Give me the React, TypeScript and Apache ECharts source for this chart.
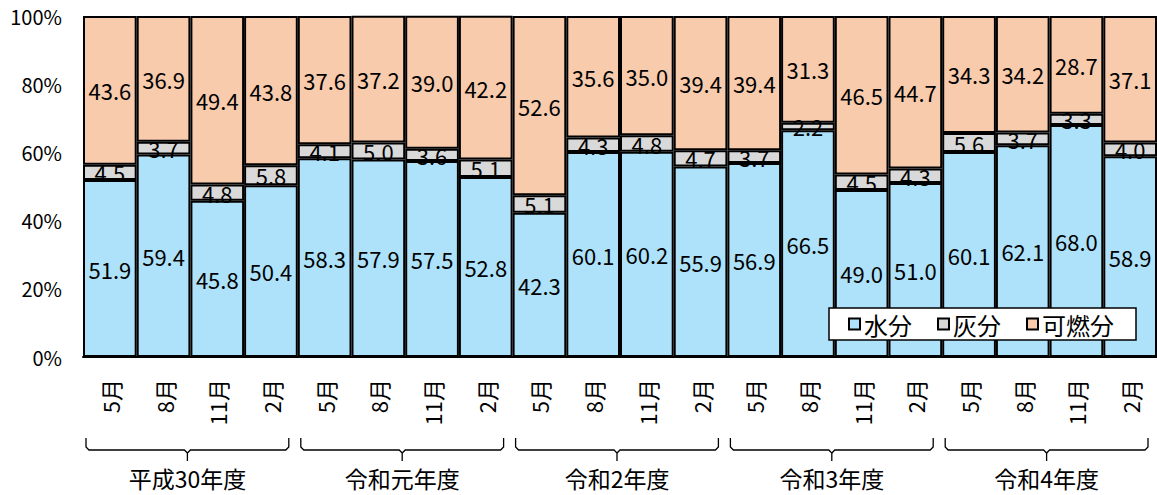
import React, { useEffect, useRef } from "react";
import * as echarts from "echarts";

const months = ["5月", "8月", "11月", "2月"];
const groups = ["平成30年度", "令和元年度", "令和2年度", "令和3年度", "令和4年度"];
const categories = groups.flatMap((g) => months.map((m) => `${g}|${m}`));

const moisture = [51.9, 59.4, 45.8, 50.4, 58.3, 57.9, 57.5, 52.8, 42.3, 60.1, 60.2, 55.9, 56.9, 66.5, 49.0, 51.0, 60.1, 62.1, 68.0, 58.9];
const ash = [4.5, 3.7, 4.8, 5.8, 4.1, 5.0, 3.6, 5.1, 5.1, 4.3, 4.8, 4.7, 3.7, 2.2, 4.5, 4.3, 5.6, 3.7, 3.3, 4.0];
const combustible = [43.6, 36.9, 49.4, 43.8, 37.6, 37.2, 39.0, 42.2, 52.6, 35.6, 35.0, 39.4, 39.4, 31.3, 46.5, 44.7, 34.3, 34.2, 28.7, 37.1];

const seriesNames = ["水分", "灰分", "可燃分"];
const colors = ["#ade2fa", "#d9d9d9", "#f8cbad"];
const FONT = "'Noto Sans CJK JP', 'Noto Sans', sans-serif";

export default function App() {
  const ref = useRef<HTMLDivElement>(null);
  useEffect(() => {
    if (!ref.current) return;
    const chart = echarts.init(ref.current, undefined, { renderer: "svg" });
    const mk = (name: string, data: number[], color: string) => ({
      name,
      type: "bar",
      stack: "total",
      data,
      barCategoryGap: 0,
      itemStyle: { color, borderColor: "#000", borderWidth: 2 },
      label: {
        show: true,
        position: "inside",
        color: "#000",
        fontSize: 22,
        fontFamily: FONT,
        formatter: (p: any) => Number(p.value).toFixed(1),
      },
    });
    chart.setOption({
      animation: false,
      textStyle: { fontFamily: FONT },
      grid: { left: 83, right: -5, top: 16, bottom: 138 },
      legend: {
        data: seriesNames,
        left: 829,
        top: 308,
        backgroundColor: "#fff",
        borderColor: "#000",
        borderWidth: 1.5,
        padding: [4, 22, 4, 19],
        itemGap: 25,
        itemWidth: 11,
        itemHeight: 11,
        icon: "rect",
        textStyle: { fontSize: 24, color: "#000", fontFamily: FONT, padding: [0, 0, 0, -1] },
      },
      xAxis: {
        type: "category",
        data: categories,
        axisLine: { show: true, lineStyle: { color: "#000", width: 2 } },
        axisTick: { show: false },
        axisLabel: {
          rotate: 90,
          margin: 22,
          interval: 0,
          fontSize: 22,
          color: "#000",
          fontFamily: FONT,
          formatter: (v: string) => v.split("|")[1],
        },
      },
      yAxis: {
        type: "value",
        min: 0,
        max: 100,
        interval: 20,
        axisLine: { show: false },
        axisTick: { show: false },
        splitLine: { show: false },
        axisLabel: { formatter: "{value}%", fontSize: 20, color: "#000", margin: 21, fontFamily: FONT },
      },
      series: [
        mk(seriesNames[0], moisture, colors[0]),
        mk(seriesNames[1], ash, colors[1]),
        mk(seriesNames[2], combustible, colors[2]),
      ],
    });

    const x0 = chart.convertToPixel({ xAxisIndex: 0 }, 0) as number;
    const x1 = chart.convertToPixel({ xAxisIndex: 0 }, 1) as number;
    const bw = x1 - x0;
    const graphic: any[] = [];
    groups.forEach((g, gi) => {
      const first = chart.convertToPixel({ xAxisIndex: 0 }, gi * 4) as number;
      const last = chart.convertToPixel({ xAxisIndex: 0 }, gi * 4 + 3) as number;
      const l = first - bw / 2 + 3;
      const r = last + bw / 2 - 9;
      const c = (l + r) / 2;
      const yTop = 438;
      const yMid = 450;
      const yBot = 461;
      graphic.push({
        type: "polyline",
        shape: {
          points: [
            [l, yTop], [l, yMid - 3], [l + 3, yMid], [c - 3, yMid], [c, yMid + 3], [c, yBot],
          ],
        },
        style: { stroke: "#000", lineWidth: 1.3, fill: null },
      });
      graphic.push({
        type: "polyline",
        shape: {
          points: [
            [c, yMid + 3], [c + 3, yMid], [r - 3, yMid], [r, yMid - 3], [r, yTop],
          ],
        },
        style: { stroke: "#000", lineWidth: 1.3, fill: null },
      });
      graphic.push({
        type: "text",
        x: c,
        y: 478,
        style: {
          text: g,
          fontSize: 23,
          fontFamily: FONT,
          fill: "#000",
          align: "center",
          verticalAlign: "middle",
        },
      });
    });
    chart.setOption({ graphic });
    return () => chart.dispose();
  }, []);
  return (
    <div
      ref={ref}
      style={{ position: "absolute", left: 0, top: 0, width: 1157, height: 495, background: "#fff" }}
    />
  );
}
